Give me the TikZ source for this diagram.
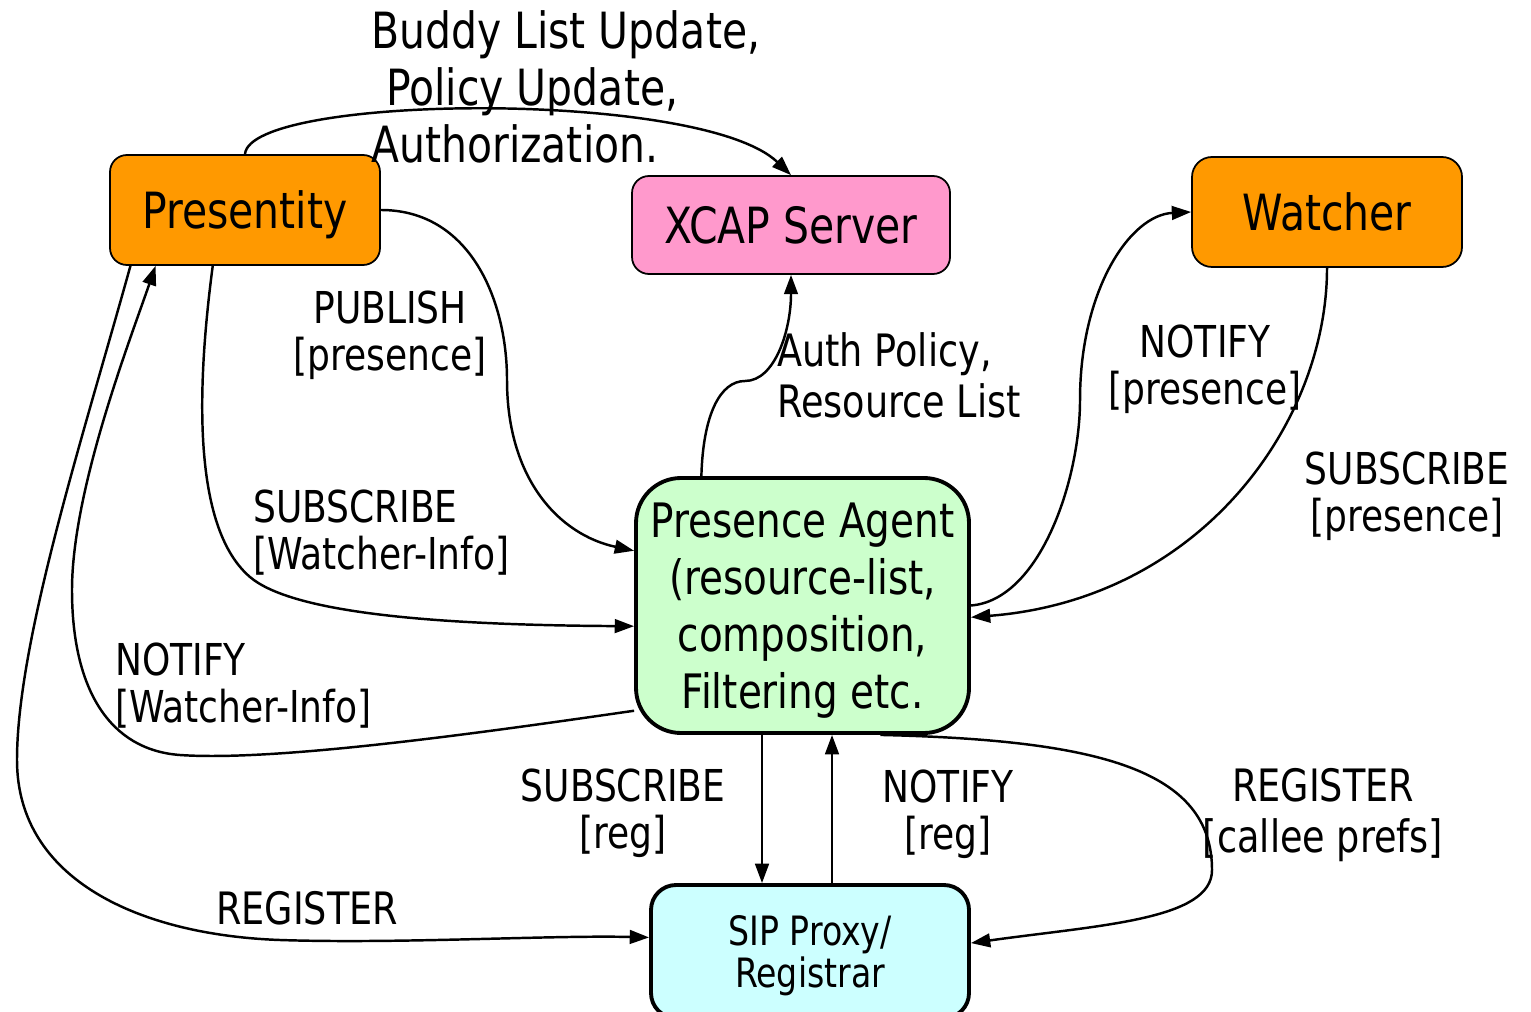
\documentclass[tikz,border=0pt]{standalone}
\usepackage{fontspec}
\setmainfont{DejaVu Sans}[FakeStretch=0.82]
\usetikzlibrary{arrows.meta}

\definecolor{presorange}{HTML}{FF9900}
\definecolor{xcappink}{HTML}{FF99CC}
\definecolor{pagreen}{HTML}{CCFFCC}
\definecolor{sipcyan}{HTML}{CCFFFF}

\begin{document}
\begin{tikzpicture}[>={Triangle[length=5.5pt,width=3.9pt]}, line width=0.7pt,
    box/.style={draw, line width=0.5pt, rounded corners=0.17cm, align=center, inner sep=0pt, text depth=0pt, font=\fontsize{14.2}{16}\selectfont},
    bigbox/.style={box, line width=1.1pt},
    lbl/.style={inner sep=0pt, align=center, font=\fontsize{12.5}{13.4}\selectfont},
    midlbl/.style={lbl, font=\fontsize{12.7}{14.5}\selectfont}]
    \useasboundingbox (0,0) rectangle (15.31,-10.11);

    % Boxes
    \node[box, fill=presorange, minimum width=2.70cm, minimum height=1.10cm] (pres) at (2.45,-2.10) {Presentity};
    \node[box, fill=xcappink, minimum width=3.18cm, minimum height=0.98cm] (xcap) at (7.91,-2.25) {XCAP Server};
    \node[box, fill=presorange, minimum width=2.70cm, minimum height=1.10cm, rounded corners=0.2cm] (watcher) at (13.27,-2.12) {Watcher};
    \node[bigbox, fill=pagreen, minimum width=3.33cm, minimum height=2.55cm, rounded corners=0.45cm,
          font=\fontsize{13.5}{16.2}\selectfont] (pa) at (8.025,-6.055) {Presence Agent\\(resource-list,\\composition,\\Filtering etc.};
    \node[bigbox, fill=sipcyan, minimum width=3.18cm, minimum height=1.33cm, rounded corners=0.25cm,
          font=\fontsize{11.5}{12.2}\selectfont] (sip) at (8.10,-9.515) {SIP Proxy/\\Registrar};

    % Presentity to XCAP
    \draw[->] (pres.north) .. controls +(0.05,0.6) and +(-0.9,0.86) .. (xcap.north);
    \node[lbl, align=left, anchor=west, font=\fontsize{14.2}{16.3}\selectfont] (buddy) at (3.70,-0.87)
        {Buddy List Update,\\\hspace*{0.15cm}Policy Update,\\Authorization.};

    % PUBLISH
    \draw[->] (pres.east) .. controls (4.70,-2.10) and (5.07,-3.00) .. (5.07,-3.80)
        .. controls (5.07,-4.80) and (5.60,-5.35) .. (pa.162);
    \node[lbl] (publish) at (3.90,-3.35) {PUBLISH\\{[presence]}};

    % SUBSCRIBE watcher info
    \draw[->] (pres.240) .. controls (1.95,-4.00) and (1.95,-5.30) .. (2.50,-5.77)
        .. controls (2.90,-6.11) and (4.20,-6.25) .. (pa.187);
    \node[lbl, align=left, anchor=west] (subwi) at (2.52,-5.33) {SUBSCRIBE\\{[Watcher-Info]}};

    % NOTIFY watcher info
    \draw[->] (pa.212) .. controls (5.00,-7.30) and (2.80,-7.62) .. (1.80,-7.55)
        .. controls (1.10,-7.50) and (0.72,-6.90) .. (0.72,-5.90)
        .. controls (0.72,-4.90) and (1.30,-3.40) .. (pres.212);
    \node[lbl, align=left, anchor=west] (notwi) at (1.14,-6.86) {NOTIFY\\{[Watcher-Info]}};

    % REGISTER from presentity
    \draw[->] (pres.206) .. controls (0.85,-4.30) and (0.17,-6.40) .. (0.17,-7.60)
        .. controls (0.17,-8.80) and (1.40,-9.35) .. (2.80,-9.40)
        .. controls (4.00,-9.44) and (5.50,-9.35) .. (sip.175);
    \node[midlbl] (reg) at (3.07,-9.08) {REGISTER};

    % PA to XCAP
    \draw[->] (pa.128) .. controls (7.03,-4.15) and (7.20,-3.81) .. (7.45,-3.81)
        .. controls (7.75,-3.81) and (7.91,-3.30) .. (xcap.south);
    \node[midlbl, align=left, anchor=west] (auth) at (7.76,-3.755) {Auth Policy,\\Resource List};

    % PA and watcher
    \draw[->] (pa.east) .. controls (10.40,-6.00) and (10.80,-4.80) .. (10.80,-4.00)
        .. controls (10.80,-2.90) and (11.30,-2.15) .. (watcher.west);
    \node[lbl] (notpres) at (12.05,-3.69) {NOTIFY\\{[presence]}};
    \draw[->] (watcher.south) .. controls +(0,-1.55) and +(2.30,0.18) .. (pa.356);
    \node[lbl] (subpres) at (14.07,-4.96) {SUBSCRIBE\\{[presence]}};

    % PA and SIP proxy
    \coordinate (subreg) at ([xshift=-0.405cm]pa.south);
    \coordinate (notreg) at ([xshift=0.295cm]pa.south);
    \draw[->] (subreg) -- (subreg |- sip.north);
    \draw[->] (notreg |- sip.north) -- (notreg);
    \node[lbl] (subreglbl) at (6.23,-8.13) {SUBSCRIBE\\{[reg]}};
    \node[lbl] (notreglbl) at (9.48,-8.14) {NOTIFY\\{[reg]}};

    % REGISTER callee prefs
    \draw[->] (pa.301) .. controls (11.00,-7.40) and (12.12,-7.70) .. (12.12,-8.70)
        .. controls (12.12,-9.20) and (11.00,-9.25) .. (sip.3);
    \node[midlbl] (callee) at (13.23,-8.15) {REGISTER\\{[callee prefs]}};
\end{tikzpicture}
\end{document}
